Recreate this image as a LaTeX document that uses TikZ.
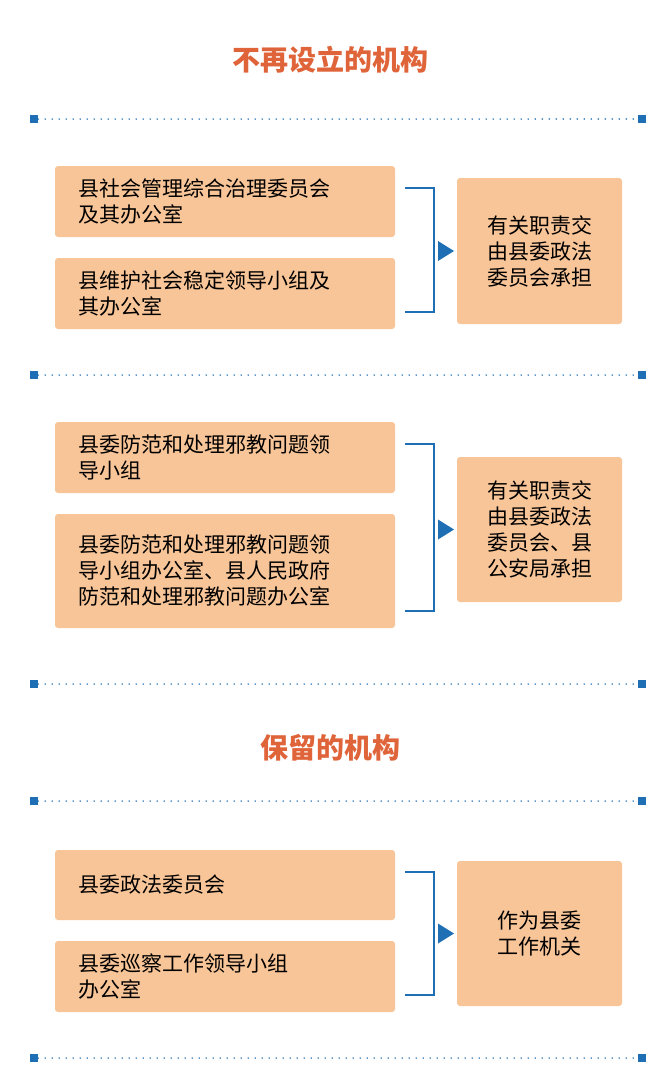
\documentclass[tikz,border=0pt]{standalone}
\usepackage{fontspec}
\setmainfont{Noto Sans CJK SC}
\begin{document}
\begin{tikzpicture}[x=1pt,y=-1pt,
  lbox/.style={fill=boxc,rounded corners=3pt,anchor=north west,inner sep=0pt},
  txt/.style={font=\fontsize{21}{26}\selectfont,align=left,anchor=west,text=black},
  rtxt/.style={font=\fontsize{21}{26}\selectfont,align=center,text=black},
  ttl/.style={font=\fontsize{28}{32}\selectfont\bfseries,text=titlec},
  brk/.style={draw=bluec,line width=2.2pt},
  sq/.style={fill=bluec,minimum size=8pt,inner sep=0pt}]
\definecolor{boxc}{HTML}{F8C598}
\definecolor{bluec}{HTML}{1F6FB5}
\definecolor{titlec}{HTML}{E0643A}
\useasboundingbox (0,0) rectangle (660,1069);
\fill[white] (0,0) rectangle (660,1069);
% dividers
\foreach \y/\n in {119/a,375/b,684/c,801/d,1058/e}{
  \node[sq] (L\n) at (34,\y) {};
  \node[sq] (R\n) at (642,\y) {};
  \draw[bluec,line width=1.6pt,line cap=round,dash pattern=on 0pt off 7pt] (L\n.east) -- (R\n.west);
}
\node[ttl] (t1) at (330,60) {不再设立的机构};
\node[ttl] (t2) at (330,748) {保留的机构};
% generic macro
\newcommand{\grp}[9]{%
  % #1 name, #2 top1,#3 bot1,#4 top2,#5 bot2,#6 rtop,#7 rbot,#8 text1,#9 text2
  \fill[boxc,rounded corners=3pt] (55,#2) rectangle (395,#3);
  \node[txt] (#1a) at (75,{(#2+#3)/2}) {#8};
  \fill[boxc,rounded corners=3pt] (55,#4) rectangle (395,#5);
  \node[txt] (#1b) at (75,{(#4+#5)/2}) {#9};
  \fill[boxc,rounded corners=3pt] (457,#6) rectangle (622,#7);
  \coordinate (#1r) at (539.5,{(#6+#7)/2});
  \draw[brk] (405,{#2+22}) -- (434,{#2+22}) -- (434,{#5-17}) -- (405,{#5-17});
  \fill[bluec] (438,{(#6+#7)/2-10}) -- (454,{(#6+#7)/2}) -- (438,{(#6+#7)/2+10}) -- cycle;
}
\grp{g1}{166}{237}{258}{329}{178}{324}{县社会管理综合治理委员会\\及其办公室}{县维护社会稳定领导小组及\\其办公室}
\node[rtxt] at (g1r) {有关职责交\\由县委政法\\委员会承担};
\grp{g2}{422}{493}{514}{628}{457}{602}{县委防范和处理邪教问题领\\导小组}{县委防范和处理邪教问题领\\导小组办公室、县人民政府\\防范和处理邪教问题办公室}
\node[rtxt] at (g2r) {有关职责交\\由县委政法\\委员会、县\\公安局承担};
\grp{g3}{850}{920}{941}{1012}{861}{1006}{县委政法委员会}{县委巡察工作领导小组\\办公室}
\node[rtxt] at (g3r) {作为县委\\工作机关};
\end{tikzpicture}
\end{document}
